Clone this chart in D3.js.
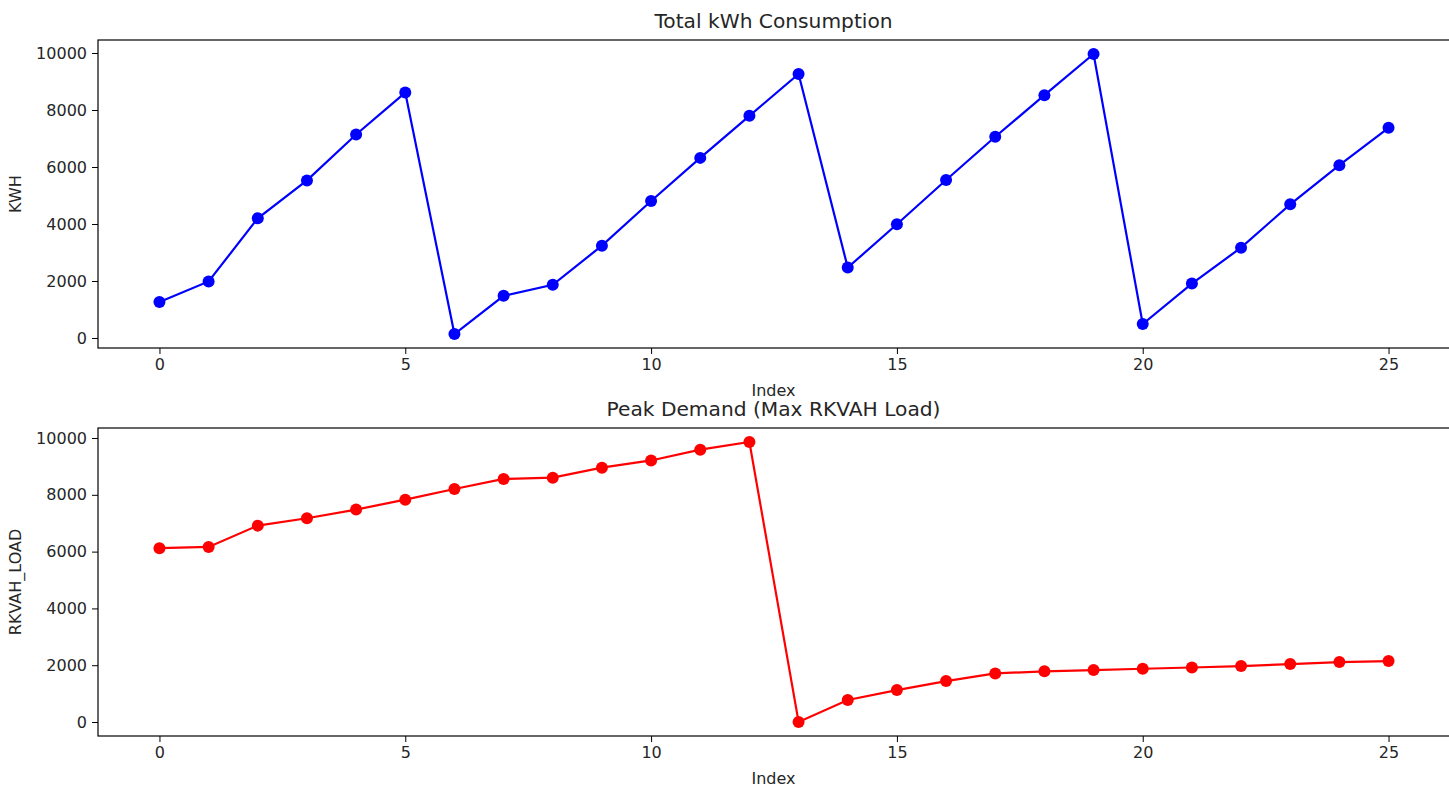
<!DOCTYPE html>
<html>
<head>
<meta charset="utf-8">
<script src="https://cdn.jsdelivr.net/npm/d3@7"></script>
<style>
  body { margin: 0; background: #fff; }
  svg text { font-family: "DejaVu Sans", sans-serif; fill: #262626; }
  .axis path, .axis line { stroke: #000; }
</style>
</head>
<body>
<svg id="chart" width="1449" height="790"></svg>
<script>
// index values (x axis)
var indexValues = d3.range(0, 26);

// total kWh per index
var kwhValues = [1260, 1985, 4200, 5530, 7140, 8610, 140, 1480, 1865, 3240, 4805, 6320, 7795, 9265,
  2470, 3990, 5545, 7060, 8520, 9965, 490, 1910, 3170, 4690, 6065, 7375];

// max rkvah load per index
var loadValues = [6120, 6165, 6915, 7175, 7480, 7830, 8205, 8560, 8605, 8955, 9210, 9590, 9860, 0,
  775, 1125, 1440, 1710, 1785, 1830, 1875, 1920, 1970, 2040, 2110, 2145];

var xTicks = [0, 5, 10, 15, 20, 25];
var yTicks = [0, 2000, 4000, 6000, 8000, 10000];

var svg = d3.select("#chart");

//draw one subplot: panel box, axes, labels, line and markers
function drawPanel(top, bottom, values, color, title, ylabel) {
    var left = 98, right = 1450;

    var x = d3.scaleLinear()
        .domain([-1.25, 26.25])
        .range([left, right]);

    //matplotlib style 5% margin around the data
    var lo = d3.min(values), hi = d3.max(values), pad = (hi - lo) * 0.05;
    var y = d3.scaleLinear()
        .domain([lo - pad, hi + pad])
        .range([bottom, top]);

    var g = svg.append("g");

    g.append("g")
        .attr("class", "axis")
        .attr("transform", "translate(0," + bottom + ")")
        .call(d3.axisBottom(x).tickValues(xTicks).tickSize(6).tickPadding(5).tickFormat(d3.format("d")))
        .call(function(a) { a.select(".domain").remove(); })
        .selectAll("text").style("font-size", "16px").attr("fill", "#262626");

    g.append("g")
        .attr("class", "axis")
        .attr("transform", "translate(" + left + ",0)")
        .call(d3.axisLeft(y).tickValues(yTicks).tickSize(6).tickPadding(5).tickFormat(d3.format("d")))
        .call(function(a) { a.select(".domain").remove(); })
        .selectAll("text").style("font-size", "16px").attr("fill", "#262626");

    //axes frame
    g.append("rect")
        .attr("x", left)
        .attr("y", top)
        .attr("width", right - left)
        .attr("height", bottom - top)
        .attr("fill", "none")
        .attr("stroke", "#000")
        .attr("stroke-width", 1.2);

    var line = d3.line()
        .x(function(d, i) { return x(indexValues[i]); })
        .y(function(d) { return y(d); });

    g.append("path")
        .datum(values)
        .attr("d", line)
        .attr("fill", "none")
        .attr("stroke", color)
        .attr("stroke-width", 2.2);

    g.selectAll("circle")
        .data(values)
        .enter().append("circle")
        .attr("cx", function(d, i) { return x(indexValues[i]); })
        .attr("cy", function(d) { return y(d); })
        .attr("r", 6)
        .attr("fill", color);

    g.append("text")
        .attr("x", (left + 1449) / 2)
        .attr("y", top - 12)
        .attr("text-anchor", "middle")
        .style("font-size", "20.2px")
        .text(title);

    g.append("text")
        .attr("x", (left + 1449) / 2)
        .attr("y", bottom + 48)
        .attr("text-anchor", "middle")
        .style("font-size", "16px")
        .text("Index");

    g.append("text")
        .attr("transform", "translate(21," + (top + bottom) / 2 + ") rotate(-90)")
        .attr("text-anchor", "middle")
        .style("font-size", "16px")
        .text(ylabel);
}

drawPanel(40, 348, kwhValues, "#0000ff", "Total kWh Consumption", "KWH");
drawPanel(428, 736, loadValues, "#ff0000", "Peak Demand (Max RKVAH Load)", "RKVAH_LOAD");
</script>
</body>
</html>
